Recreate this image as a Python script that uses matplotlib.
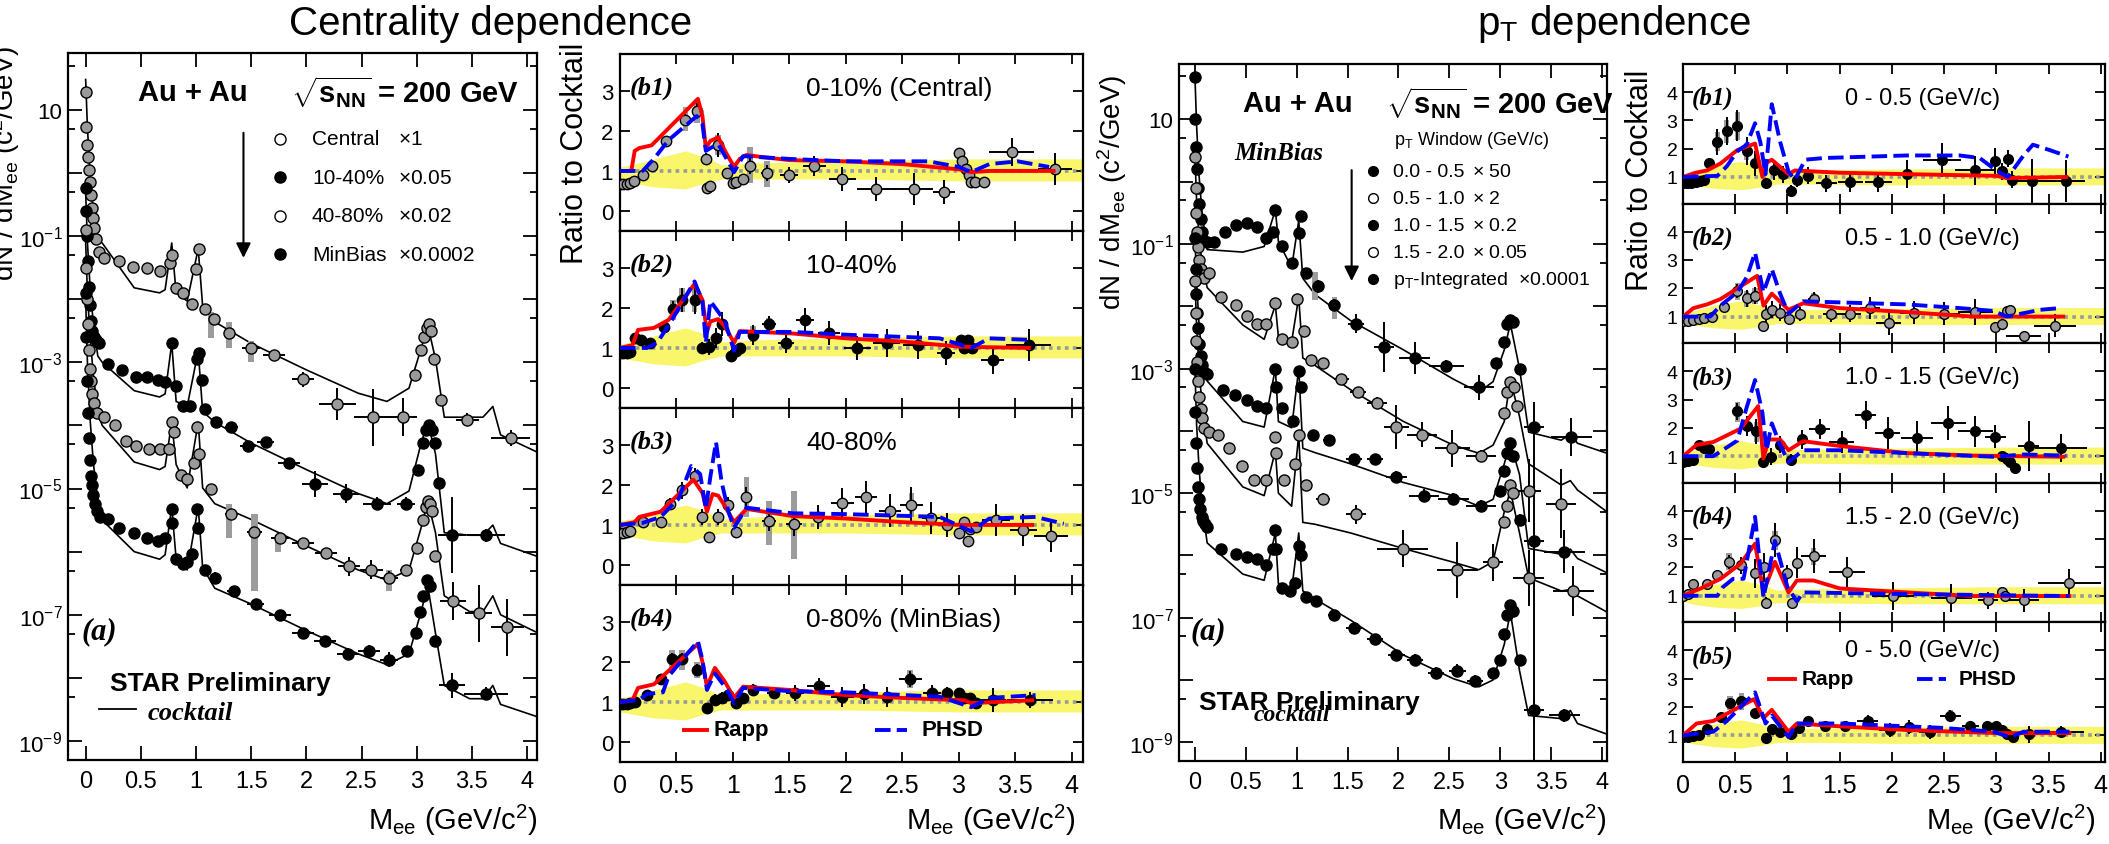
import numpy as np
import matplotlib.pyplot as plt
from matplotlib.ticker import NullFormatter

plt.rcParams['font.family'] = ['Liberation Sans', 'DejaVu Sans']
plt.rcParams['mathtext.fontset'] = 'custom'
plt.rcParams['mathtext.rm'] = 'Liberation Sans'
plt.rcParams['mathtext.it'] = 'Liberation Sans:italic'
plt.rcParams['mathtext.bf'] = 'Liberation Sans:bold'
plt.rcParams['axes.linewidth'] = 1.6

SERIF_BI = dict(family='Liberation Serif', style='italic', weight='bold')
GREY = '#9a9a9a'
YELLOW = '#f9f66b'

# =========================
# CENTRALITY (a): mass spectra, log10 of dN/dMee
# =========================
ck_mass = [0.0, 0.016, 0.04, 0.07, 0.11, 0.15, 0.44, 0.67, 0.72, 0.78, 0.82, 0.92, 1.02, 1.06, 1.17,
           1.5, 2.0, 2.47, 2.73, 2.93, 3.04, 3.1, 3.17, 3.25, 3.48, 3.6, 3.69, 3.76, 4.1]
ck_central = [1.48, 0.72, -0.03, -0.61, -1.07, -1.11, -1.82, -1.90, -1.85, -1.11, -1.90, -2.03, -1.20, -2.11, -2.36,
              -2.70, -3.12, -3.49, -3.62, -3.41, -2.78, -2.41, -2.95, -3.87, -3.87, -3.87, -3.70, -4.15, -4.43]
ck_1040 = [-0.3, -1.1, -1.8, -2.4, -2.9, -3.0, -3.45, -3.55, -3.5, -2.70, -3.62, -3.70, -2.82, -3.78, -3.95,
           -4.28, -4.70, -5.08, -5.24, -5.04, -4.28, -3.95, -4.45, -5.70, -5.74, -5.74, -5.58, -5.87, -6.08]
ck_4080 = [-1.1, -1.9, -2.6, -3.2, -3.8, -4.0, -4.58, -4.70, -4.65, -3.95, -4.62, -4.99, -3.95, -4.99, -5.24,
           -5.49, -5.91, -6.29, -6.45, -6.29, -5.62, -5.20, -5.70, -6.70, -6.95, -6.95, -6.70, -7.00, -7.29]
ck_minbias = [-2.0, -3.0, -3.9, -4.6, -5.2, -5.5, -6.0, -6.12, -6.05, -5.29, -6.12, -6.29, -5.29, -6.25, -6.58,
              -6.83, -7.25, -7.62, -7.79, -7.62, -6.95, -6.54, -7.29, -8.12, -8.33, -8.33, -8.12, -8.42, -8.62]

c1_x = [0.0, 0.006, 0.014, 0.022, 0.03, 0.04, 0.05, 0.06, 0.07, 0.08, 0.095, 0.12, 0.17, 0.3, 0.43, 0.56, 0.67,
        0.76, 0.785, 0.82, 0.88, 0.96, 1.0, 1.03, 1.08, 1.16, 1.3, 1.5, 1.71, 1.97, 2.28, 2.6, 2.88, 2.98, 3.04,
        3.07, 3.09, 3.11, 3.13, 3.16, 3.22, 3.46, 3.85]
c1_l = [1.29, 0.72, 0.45, 0.25, 0.05, -0.15, -0.35, -0.55, -0.72, -0.88, -1.05, -1.25, -1.35, -1.40, -1.49,
        -1.51, -1.55, -1.42, -1.30, -1.82, -1.90, -2.07, -1.53, -1.20, -2.16, -2.32, -2.53, -2.78, -2.88, -3.27,
        -3.66, -3.87, -3.87, -3.20, -2.80, -2.60, -2.45, -2.40, -2.50, -2.95, -3.60, -3.91, -4.20]
c1_dx = [0] * 26 + [0.05, 0.08, 0.1, 0.1, 0.17, 0.17, 0.12, 0, 0, 0, 0, 0, 0, 0, 0.03, 0.1, 0.18]
c1_dl = [0] * 17 + [0.08, 0.08, 0.08, 0.08, 0.08, 0.05, 0.05, 0.05, 0.05, 0.05, 0.06, 0.06, 0.12, 0.25, 0.45,
                    0.3, 0.05, 0.05, 0.05, 0.05, 0.05, 0.05, 0.05, 0.08, 0.1, 0.12]

c2_x = [0.0, 0.005, 0.012, 0.02, 0.03, 0.04, 0.05, 0.06, 0.075, 0.09, 0.12, 0.2, 0.33, 0.46, 0.56, 0.66, 0.72,
        0.78, 0.82, 0.88, 0.95, 1.01, 1.03, 1.05, 1.08, 1.18, 1.32, 1.47, 1.63, 1.84, 2.08, 2.36, 2.64, 2.9,
        3.01, 3.06, 3.08, 3.11, 3.14, 3.17, 3.2, 3.32, 3.63]
c2_l = [-0.24, -0.6, -1.0, -1.4, -1.8, -2.1, -2.35, -2.5, -2.6, -2.65, -2.70, -3.03, -3.12, -3.24, -3.24, -3.28,
        -3.32, -2.70, -3.37, -3.70, -3.70, -2.95, -2.85, -3.28, -3.74, -3.95, -4.03, -4.33, -4.27, -4.60, -4.93,
        -5.08, -5.24, -5.24, -4.70, -4.28, -4.08, -3.99, -4.08, -4.28, -4.91, -5.74, -5.74]
c2_dx = [0] * 26 + [0.06, 0.07, 0.08, 0.1, 0.12, 0.12, 0.13, 0.08, 0, 0, 0, 0, 0, 0, 0.02, 0.13, 0.17]
c2_dl = [0] * 18 + [0.08, 0.08, 0.08, 0.05, 0.05, 0.05, 0.05, 0.05, 0.05, 0.05, 0.05, 0.08, 0.2, 0.15, 0.1,
                    0.1, 0.05, 0.05, 0.05, 0.05, 0.05, 0.05, 0.05, 0.6, 0.1]

c3_x = [0.0, 0.006, 0.014, 0.022, 0.03, 0.04, 0.05, 0.06, 0.075, 0.1, 0.17, 0.27, 0.37, 0.46, 0.57, 0.67,
        0.755, 0.78, 0.8, 0.86, 0.92, 0.98, 1.01, 1.03, 1.14, 1.32, 1.53, 1.76, 1.97, 2.18, 2.39, 2.59, 2.75,
        2.9, 3.0, 3.06, 3.08, 3.1, 3.12, 3.14, 3.17, 3.33, 3.56, 3.82]
c3_l = [-0.9, -1.5, -2.0, -2.4, -2.8, -3.1, -3.3, -3.5, -3.65, -3.8, -3.87, -4.0, -4.25, -4.32, -4.38, -4.38,
        -4.38, -3.95, -4.1, -4.78, -4.85, -4.6, -4.03, -4.45, -5.0, -5.4, -5.69, -5.78, -5.87, -6.02, -6.23,
        -6.29, -6.41, -6.29, -5.94, -5.5, -5.3, -5.2, -5.25, -5.35, -6.07, -6.78, -6.98, -7.2]
c3_dx = [0] * 24 + [0.04, 0.06, 0.07, 0.08, 0.1, 0.1, 0.1, 0.1, 0.08, 0.05, 0, 0, 0, 0, 0, 0, 0,
                    0.12, 0.12, 0.15]
c3_dl = [0] * 16 + [0.05] * 12 + [0.05, 0.05, 0.15, 0.15, 0.1, 0.05, 0.05, 0.05, 0.05, 0.05, 0.05, 0.05,
                                  0.05, 0.3, 0.45, 0.45]

c4_x = [0.0, 0.005, 0.012, 0.02, 0.03, 0.04, 0.05, 0.06, 0.07, 0.085, 0.1, 0.13, 0.2, 0.3, 0.44, 0.56, 0.66,
        0.72, 0.78, 0.785, 0.82, 0.88, 0.92, 0.96, 1.01, 1.02, 1.08, 1.17, 1.34, 1.54, 1.76, 1.97, 2.17, 2.38,
        2.57, 2.75, 2.91, 2.99, 3.03, 3.06, 3.09, 3.12, 3.17, 3.32, 3.63]
c4_l = [-1.9, -2.6, -3.3, -3.8, -4.2, -4.55, -4.8, -4.95, -5.1, -5.25, -5.35, -5.45, -5.49, -5.62, -5.70,
        -5.79, -5.83, -5.79, -5.33, -5.55, -6.12, -6.20, -6.16, -6.04, -5.33, -5.62, -6.29, -6.41, -6.62,
        -6.83, -7.0, -7.29, -7.41, -7.62, -7.58, -7.71, -7.58, -7.29, -6.95, -6.70, -6.45, -6.54, -7.41,
        -8.12, -8.25]
c4_dx = [0] * 28 + [0.06, 0.08, 0.1, 0.1, 0.1, 0.1, 0.1, 0.08, 0.05, 0, 0, 0, 0, 0, 0, 0.12, 0.2]
c4_dl = [0] * 18 + [0.08] * 10 + [0.05, 0.05, 0.05, 0.08, 0.08, 0.1, 0.1, 0.12, 0.05, 0.05, 0.05, 0.05,
                                  0.05, 0.05, 0.05, 0.2, 0.1]

c1_sys_x, c1_sys_lo, c1_sys_hi = [1.14, 1.3, 1.5], [-2.61, -2.78, -2.99], [-2.2, -2.36, -2.66]
c3_sys_x, c3_sys_lo, c3_sys_hi = [1.3, 1.53, 1.74, 2.75], [-5.79, -6.62, -6.0, -6.62], [-5.24, -5.41, -5.74, -6.29]

cen_leg_names = ['Central', '10-40%', '40-80%', 'MinBias']
cen_leg_mult = [r'$\times$1', r'$\times$0.05', r'$\times$0.02', r'$\times$0.0002']
cen_leg_filled = [False, True, False, True]

# =========================
# CENTRALITY (b): ratio to cocktail
# =========================
rb_x = [0.0, 0.1, 0.3, 0.58, 0.75, 0.9, 1.2, 2.0, 3.0, 4.1]
rb_lo = [0.75, 0.7, 0.6, 0.55, 0.7, 0.8, 0.8, 0.8, 0.75, 0.75]
rb_hi = [1.1, 1.15, 1.3, 1.5, 1.35, 1.15, 1.2, 1.25, 1.3, 1.3]

b1_x = [0.0, 0.03, 0.06, 0.09, 0.12, 0.2, 0.28, 0.41, 0.58, 0.68, 0.76, 0.77, 0.8, 0.87, 0.95, 1.0, 1.03, 1.09,
        1.15, 1.3, 1.5, 1.72, 1.97, 2.27, 2.6, 2.87, 3.0, 3.03, 3.06, 3.09, 3.11, 3.14, 3.22, 3.47, 3.85]
b1_y = [0.68, 0.68, 0.68, 0.7, 0.75, 0.9, 1.13, 1.75, 2.28, 2.5, 1.3, 0.57, 0.63, 1.64, 0.95, 0.7, 0.72, 0.8,
        1.13, 0.95, 0.9, 1.13, 0.8, 0.55, 0.55, 0.48, 1.44, 1.24, 1.04, 0.9, 0.73, 0.73, 0.73, 1.47, 1.04]
b1_dx = [0] * 13 + [0.03, 0, 0, 0, 0, 0.03, 0.05, 0.08, 0.1, 0.12, 0.17, 0.17, 0.1, 0, 0, 0, 0, 0, 0, 0.03,
                    0.2, 0.15]
b1_dy = [0, 0, 0, 0, 0, 0.05, 0.08, 0.1, 0.15, 0.2, 0.15, 0.05, 0.05, 0.3, 0.1, 0.05, 0.05, 0.1, 0.2, 0.2,
         0.2, 0.25, 0.3, 0.3, 0.4, 0.3, 0.1, 0.1, 0.1, 0.1, 0.05, 0.05, 0.1, 0.35, 0.4]
b1_sys = ([0.58, 0.68, 0.87, 1.15, 1.3], [2.0, 2.2, 1.4, 0.7, 0.6], [2.6, 2.8, 1.9, 1.6, 1.25])
b1_rapp_x = [0.0, 0.1, 0.13, 0.17, 0.28, 0.69, 0.73, 0.76, 0.8, 0.87, 0.93, 1.01, 1.06, 1.12, 1.25, 1.5, 2.0,
             2.5, 3.0, 3.11, 3.27, 3.84]
b1_rapp_y = [1.0, 1.0, 1.5, 1.57, 1.64, 2.8, 2.37, 1.57, 1.75, 1.84, 1.5, 1.1, 1.3, 1.4, 1.35, 1.27, 1.24,
             1.17, 1.04, 0.97, 1.0, 1.0]
b1_phsd_x = [0.0, 0.2, 0.3, 0.43, 0.68, 0.73, 0.76, 0.8, 0.87, 1.01, 1.09, 1.5, 2.0, 2.73, 3.0, 3.11, 3.27,
             3.52, 3.8]
b1_phsd_y = [1.0, 1.0, 1.3, 1.77, 2.37, 2.17, 1.5, 1.57, 1.67, 0.97, 1.37, 1.3, 1.24, 1.24, 1.1, 0.97, 1.17,
             1.24, 1.1]

b2_x = [0.0, 0.03, 0.06, 0.09, 0.13, 0.19, 0.27, 0.39, 0.47, 0.55, 0.66, 0.73, 0.79, 0.85, 0.9, 0.98, 1.03,
        1.06, 1.18, 1.32, 1.47, 1.64, 1.85, 2.1, 2.36, 2.64, 2.89, 3.02, 3.05, 3.08, 3.12, 3.3, 3.62]
b2_y = [0.87, 0.87, 0.88, 0.9, 1.26, 1.2, 1.13, 1.53, 1.96, 2.2, 2.2, 1.0, 1.02, 1.26, 1.6, 0.8, 0.93, 1.0,
        1.33, 1.6, 1.13, 1.7, 1.37, 1.0, 1.13, 1.07, 0.87, 1.2, 1.0, 1.2, 1.0, 0.7, 1.07]
b2_dx = [0] * 18 + [0.05, 0.06, 0.07, 0.08, 0.1, 0.12, 0.12, 0.13, 0.08, 0, 0, 0, 0, 0.1, 0.2]
b2_dy = [0, 0, 0, 0, 0.1, 0.1, 0.1, 0.15, 0.2, 0.3, 0.35, 0.15, 0.2, 0.25, 0.3, 0.15, 0.15, 0.1, 0.25, 0.2,
         0.25, 0.3, 0.3, 0.3, 0.35, 0.35, 0.3, 0.1, 0.1, 0.1, 0.1, 0.35, 0.4]
b2_sys = ([0.47, 0.55, 0.66, 1.18, 1.32], [1.7, 1.9, 1.9, 1.15, 1.45], [2.2, 2.5, 2.5, 1.55, 1.75])
b2_rapp_x = [0.0, 0.11, 0.16, 0.3, 0.43, 0.66, 0.73, 0.77, 0.8, 0.87, 0.93, 1.01, 1.06, 1.53, 2.0, 2.5, 3.02, 3.62]
b2_rapp_y = [1.0, 1.07, 1.45, 1.5, 1.7, 2.6, 2.2, 1.4, 1.66, 1.72, 1.53, 1.13, 1.42, 1.36, 1.24, 1.16, 1.03, 1.0]
b2_phsd_x = [0.0, 0.24, 0.33, 0.46, 0.66, 0.73, 0.76, 0.8, 0.87, 0.93, 1.01, 1.06, 1.53, 2.0, 2.83, 3.11, 3.27, 3.65]
b2_phsd_y = [1.0, 1.0, 1.13, 1.7, 2.66, 2.17, 1.13, 2.17, 1.9, 1.66, 0.93, 1.4, 1.4, 1.33, 1.24, 1.0, 1.24, 1.2]

b3_x = [0.0, 0.03, 0.06, 0.09, 0.2, 0.36, 0.44, 0.55, 0.66, 0.73, 0.79, 0.87, 0.96, 1.03, 1.12, 1.32, 1.54,
        1.75, 1.97, 2.18, 2.39, 2.58, 2.75, 2.9, 3.0, 3.05, 3.08, 3.1, 3.15, 3.33, 3.57, 3.82]
b3_y = [0.8, 0.8, 0.82, 0.85, 1.07, 1.07, 1.53, 1.86, 2.22, 1.2, 0.7, 1.2, 1.5, 0.83, 1.69, 1.1, 1.03, 1.2,
        1.56, 1.69, 1.36, 1.5, 1.17, 1.0, 0.8, 1.07, 0.6, 0.9, 0.95, 1.13, 0.87, 0.73]
b3_dx = [0] * 15 + [0.06, 0.07, 0.08, 0.1, 0.1, 0.1, 0.1, 0.08, 0.05, 0, 0, 0, 0, 0, 0.12, 0.12, 0.15]
b3_dy = [0, 0, 0, 0, 0.05, 0.1, 0.15, 0.2, 0.2, 0.2, 0.1, 0.2, 0.2, 0.1, 0.25, 0.25, 0.3, 0.3, 0.35, 0.4,
         0.4, 0.45, 0.4, 0.3, 0.1, 0.1, 0.1, 0.1, 0.1, 0.4, 0.4, 0.4]
b3_sys = ([1.12, 1.32, 1.54, 2.58], [1.2, 0.5, 0.15, 1.2], [2.2, 1.6, 1.85, 1.8])
b3_rapp_x = [0.0, 0.13, 0.17, 0.36, 0.65, 0.73, 0.77, 0.82, 0.87, 0.93, 1.01, 1.12, 1.53, 2.0, 2.5, 3.02, 3.65]
b3_rapp_y = [1.0, 1.07, 1.2, 1.33, 2.13, 1.8, 1.33, 1.77, 1.73, 1.47, 1.07, 1.4, 1.22, 1.16, 1.07, 1.0, 1.0]
b3_phsd_x = [0.0, 0.2, 0.36, 0.52, 0.63, 0.71, 0.76, 0.8, 0.85, 0.9, 0.96, 1.01, 1.12, 1.53, 2.0, 2.83, 3.11,
             3.27, 3.68, 3.93]
b3_phsd_y = [1.0, 1.05, 1.2, 1.66, 2.47, 2.27, 1.4, 2.2, 3.07, 2.07, 1.33, 0.93, 1.43, 1.29, 1.27, 1.2, 0.84,
             1.16, 1.2, 1.03]

b4_x = [0.0, 0.03, 0.06, 0.09, 0.13, 0.24, 0.36, 0.46, 0.55, 0.68, 0.77, 0.84, 0.9, 0.96, 1.03, 1.09, 1.18,
        1.36, 1.55, 1.76, 1.97, 2.16, 2.36, 2.57, 2.76, 2.9, 3.0, 3.05, 3.1, 3.15, 3.3, 3.63]
b4_y = [0.95, 0.95, 0.95, 0.97, 1.0, 1.17, 1.58, 2.07, 2.07, 1.8, 0.84, 1.04, 1.1, 1.17, 0.97, 1.1, 1.3, 1.23,
        1.23, 1.4, 1.13, 1.21, 1.13, 1.58, 1.23, 1.23, 1.23, 1.1, 1.1, 0.97, 1.04, 1.04]
b4_dx = [0] * 17 + [0.06, 0.08, 0.1, 0.1, 0.1, 0.1, 0.1, 0.08, 0.05, 0, 0, 0, 0, 0.12, 0.2]
b4_dy = [0, 0, 0, 0, 0, 0.05, 0.1, 0.15, 0.15, 0.15, 0.1, 0.15, 0.15, 0.15, 0.1, 0.1, 0.15, 0.15, 0.2, 0.2,
         0.25, 0.25, 0.25, 0.2, 0.2, 0.15, 0.1, 0.1, 0.1, 0.1, 0.3, 0.2]
b4_sys = ([0.46, 0.55, 0.68, 2.57], [1.8, 1.8, 1.6, 1.35], [2.3, 2.3, 2.0, 1.8])
b4_rapp_x = [0.0, 0.11, 0.16, 0.3, 0.69, 0.73, 0.77, 0.84, 0.93, 1.01, 1.09, 1.5, 2.0, 2.5, 3.05, 3.11, 3.65]
b4_rapp_y = [1.0, 1.04, 1.35, 1.44, 2.45, 2.0, 1.38, 1.85, 1.5, 1.1, 1.38, 1.3, 1.17, 1.1, 1.04, 0.97, 1.04]
b4_phsd_x = [0.0, 0.17, 0.24, 0.38, 0.43, 0.69, 0.73, 0.77, 0.84, 0.95, 1.01, 1.09, 1.5, 2.0, 2.83, 3.11, 3.27, 3.68]
b4_phsd_y = [1.0, 1.05, 1.2, 1.24, 1.64, 2.52, 2.05, 1.3, 1.71, 1.3, 0.97, 1.35, 1.27, 1.24, 1.13, 0.87, 1.1, 1.17]

cen_b_tags = ['(b1)', '(b2)', '(b3)', '(b4)']
cen_b_labels = ['0-10% (Central)', '10-40%', '40-80%', '0-80% (MinBias)']
cen_b_filled = [False, True, False, True]

# =========================
# pT (a): mass spectra in pT windows, log10 of dN/dMee
# =========================
pk_mass = [0.0, 0.016, 0.04, 0.07, 0.12, 0.47, 0.68, 0.79, 0.82, 0.95, 1.02, 1.06, 1.18, 1.53, 2.05, 2.54,
           2.79, 2.93, 3.04, 3.1, 3.19, 3.28, 3.6, 3.69, 3.76, 4.05]
pk_1 = [1.68, 0.9, 0.1, -0.5, -1.09, -1.13, -1.04, -0.45, -0.96, -1.38, -0.62, -1.55, -1.81, -2.23, -2.70,
        -3.17, -3.38, -3.21, -2.70, -2.28, -3.0, -4.02, -4.15, -4.05, -4.2, -4.36]
pk_2 = [0.4, -0.3, -0.9, -1.3, -1.7, -2.3, -2.53, -1.98, -2.49, -2.57, -1.85, -2.83, -2.95, -3.34, -3.85,
        -4.23, -4.36, -4.23, -3.85, -3.17, -3.77, -4.53, -4.87, -4.8, -4.95, -5.30]
pk_3 = [-0.9, -1.6, -2.3, -2.8, -3.2, -3.85, -3.94, -3.0, -3.85, -3.95, -3.0, -4.28, -4.35, -4.53, -4.83,
        -5.04, -5.21, -5.1, -4.53, -4.19, -4.7, -5.89, -5.98, -5.9, -6.05, -6.28]
pk_4 = [-1.6, -2.3, -3.0, -3.6, -4.2, -4.9, -5.04, -4.32, -5.0, -5.21, -4.06, -5.47, -5.5, -5.64, -5.89,
        -6.11, -6.23, -6.1, -5.3, -4.96, -5.64, -6.36, -6.57, -6.55, -6.65, -6.91]
pk_5 = [-3.0, -3.9, -4.6, -5.2, -5.8, -6.3, -6.4, -5.64, -6.45, -6.55, -5.64, -6.57, -6.7, -7.04, -7.6,
        -7.98, -8.11, -8.0, -7.43, -6.91, -7.85, -8.57, -8.62, -8.49, -8.7, -8.87]

p1_x = [0.0, 0.005, 0.012, 0.02, 0.03, 0.04, 0.055, 0.07, 0.09, 0.12, 0.19, 0.3, 0.4, 0.51, 0.61, 0.7, 0.77,
        0.79, 0.86, 0.95, 1.02, 1.04, 1.09, 1.21, 1.37, 1.58, 1.86, 2.16, 2.47, 2.79, 2.96, 3.04, 3.07, 3.1,
        3.13, 3.19, 3.33, 3.7]
p1_l = [1.68, 1.0, 0.55, 0.2, -0.1, -0.35, -0.6, -0.8, -0.95, -0.96, -0.96, -0.8, -0.70, -0.66, -0.72, -0.91,
        -0.8, -0.45, -1.04, -1.30, -0.83, -0.55, -1.47, -1.68, -1.98, -2.28, -2.66, -2.83, -2.96, -3.3, -2.91,
        -2.57, -2.28, -2.22, -2.25, -3.0, -3.94, -4.1]
p1_dx = [0] * 23 + [0.04, 0.06, 0.08, 0.1, 0.15, 0.17, 0.15, 0, 0, 0, 0, 0, 0, 0.1, 0.2]
p1_dl = [0] * 10 + [0.05, 0.05, 0.05, 0.05, 0.05, 0.05, 0.05, 0.05, 0.08, 0.08, 0.08, 0.05, 0.08, 0.1, 0.1,
                    0.15, 0.4, 0.25, 0.1, 0.2, 0.08, 0.05, 0.05, 0.05, 0.05, 0.08, 0.4, 0.3]
p1_dlo = [0] * 10 + [0.05, 0.05, 0.05, 0.05, 0.05, 0.05, 0.05, 0.05, 0.08, 0.08, 0.08, 0.05, 0.08, 0.1, 0.1,
                     0.15, 0.4, 0.25, 0.1, 0.2, 0.08, 0.05, 0.05, 0.05, 0.05, 0.08, 6.0, 0.3]

p2_x = [0.0, 0.006, 0.014, 0.022, 0.03, 0.04, 0.055, 0.07, 0.09, 0.14, 0.26, 0.4, 0.51, 0.61, 0.7, 0.79, 0.86,
        0.95, 1.0, 1.07, 1.14, 1.26, 1.44, 1.6, 1.79, 1.98, 2.23, 2.53, 2.81, 3.04, 3.07, 3.1, 3.14, 3.17, 3.28, 3.6]
p2_l = [0.4, -0.1, -0.5, -0.8, -1.05, -1.25, -1.4, -1.5, -1.55, -1.47, -1.85, -1.98, -2.15, -2.28, -2.28,
        -1.94, -2.53, -2.57, -1.89, -2.4, -2.87, -2.91, -3.17, -3.38, -3.55, -3.94, -4.06, -4.28, -4.4, -3.72,
        -3.38, -3.21, -3.3, -3.6, -4.96, -5.17]
p2_dx = [0] * 20 + [0.03, 0.05, 0.07, 0.08, 0.1, 0.12, 0.15, 0.17, 0.15, 0, 0, 0, 0, 0, 0.12, 0.15]
p2_dl = [0] * 10 + [0.05] * 10 + [0.05, 0.08, 0.08, 0.08, 0.1, 0.35, 0.2, 0.3, 0.1, 0.05, 0.05, 0.05, 0.05,
                                  0.05, 0.5, 0.55]

p3_x = [0.0, 0.006, 0.014, 0.022, 0.03, 0.04, 0.055, 0.07, 0.09, 0.12, 0.28, 0.39, 0.51, 0.61, 0.7, 0.79, 0.8,
        0.86, 0.96, 1.02, 1.04, 1.16, 1.32, 1.56, 1.77, 1.98, 2.25, 2.54, 2.81, 3.0, 3.04, 3.07, 3.1, 3.13, 3.19,
        3.33, 3.63]
p3_l = [-0.9, -1.4, -1.8, -2.1, -2.35, -2.6, -2.8, -2.95, -3.05, -3.09, -3.34, -3.43, -3.51, -3.6, -3.64, -3.0,
        -3.3, -3.64, -3.85, -3.04, -3.3, -4.06, -4.15, -4.45, -4.45, -4.74, -5.04, -5.09, -5.21, -4.96, -4.65,
        -4.36, -4.19, -4.4, -5.43, -5.77, -5.94]
p3_dx = [0] * 21 + [0.04, 0.06, 0.08, 0.08, 0.1, 0.15, 0.15, 0.15, 0, 0, 0, 0, 0, 0, 0.1, 0.2]
p3_dl = [0] * 10 + [0.05] * 11 + [0.05, 0.05, 0.08, 0.08, 0.1, 0.1, 0.1, 0.1, 0.05, 0.05, 0.05, 0.05, 0.05,
                                  0.1, 0.3, 0.35]

p4_x = [0.0, 0.006, 0.014, 0.022, 0.03, 0.04, 0.055, 0.07, 0.09, 0.14, 0.23, 0.33, 0.46, 0.58, 0.7, 0.79, 0.8,
        0.88, 0.98, 1.02, 1.09, 1.26, 1.58, 2.04, 2.58, 2.93, 3.04, 3.07, 3.1, 3.13, 3.28, 3.72]
p4_l = [-1.6, -2.1, -2.55, -2.9, -3.2, -3.45, -3.65, -3.8, -3.95, -4.02, -4.06, -4.28, -4.57, -4.79, -4.79,
        -4.1, -4.35, -4.79, -4.53, -4.06, -4.87, -5.09, -5.34, -5.89, -6.23, -6.11, -5.47, -5.2, -4.87, -5.0,
        -6.36, -6.57]
p4_dx = [0] * 21 + [0.07, 0.1, 0.25, 0.2, 0.1, 0, 0, 0, 0, 0.15, 0.2]
p4_dl = [0] * 10 + [0.05] * 11 + [0.1, 0.15, 0.3, 0.45, 0.3, 0.08, 0.05, 0.05, 0.05, 0.45, 0.4]

p5_x = [0.0, 0.005, 0.012, 0.02, 0.03, 0.04, 0.05, 0.065, 0.08, 0.1, 0.12, 0.26, 0.4, 0.51, 0.61, 0.7, 0.77,
        0.79, 0.8, 0.86, 0.93, 0.98, 1.02, 1.04, 1.09, 1.19, 1.37, 1.56, 1.77, 1.98, 2.16, 2.37, 2.58, 2.75,
        2.93, 3.0, 3.04, 3.07, 3.1, 3.13, 3.19, 3.33, 3.63]
p5_l = [-3.0, -3.7, -4.2, -4.6, -4.9, -5.1, -5.25, -5.38, -5.45, -5.5, -5.55, -5.9, -5.98, -6.02, -6.06, -6.15,
        -5.9, -5.6, -5.9, -6.53, -6.57, -6.45, -5.85, -6.0, -6.66, -6.74, -6.96, -7.17, -7.34, -7.6, -7.68,
        -7.89, -7.85, -8.02, -7.89, -7.68, -7.26, -6.96, -6.79, -6.9, -7.68, -8.49, -8.57]
p5_dx = [0] * 26 + [0.06, 0.08, 0.08, 0.08, 0.08, 0.08, 0.08, 0.08, 0.05, 0, 0, 0, 0, 0, 0, 0.1, 0.15]
p5_dl = [0] * 26 + [0.05, 0.05, 0.05, 0.08, 0.1, 0.1, 0.1, 0.1, 0.08, 0.05, 0.05, 0.05, 0.05, 0.05, 0.05,
                    0.2, 0.1]

p1_sys_x, p1_sys_lo, p1_sys_hi = [1.18, 1.37], [-1.9, -2.2], [-1.45, -1.85]

pt_leg_ranges = ['0.0 - 0.5', '0.5 - 1.0', '1.0 - 1.5', '1.5 - 2.0']
pt_leg_mult = [r'$\times$ 50', r'$\times$ 2', r'$\times$ 0.2', r'$\times$ 0.05']
pt_leg_filled = [True, False, True, False, True]

# =========================
# pT (b): ratio to cocktail
# =========================
pb_x = [0.0, 0.1, 0.3, 0.55, 0.75, 0.9, 1.2, 2.0, 3.0, 4.1]
pb_lo = [0.8, 0.7, 0.6, 0.55, 0.65, 0.75, 0.75, 0.72, 0.72, 0.72]
pb_hi = [1.1, 1.2, 1.4, 1.55, 1.4, 1.2, 1.25, 1.28, 1.32, 1.32]

q1_x = [0.0, 0.04, 0.08, 0.12, 0.16, 0.2, 0.25, 0.33, 0.42, 0.52, 0.61, 0.69, 0.79, 0.87, 0.96, 1.03, 1.09, 1.2,
        1.37, 1.6, 1.87, 2.14, 2.48, 2.8, 2.99, 3.05, 3.11, 3.15, 3.34, 3.67]
q1_y = [0.8, 0.8, 0.8, 0.82, 0.85, 0.9, 1.48, 2.24, 2.62, 2.81, 1.91, 1.48, 0.77, 1.23, 1.1, 0.52, 0.9, 1.04,
        0.77, 0.81, 0.81, 1.1, 1.61, 1.23, 1.57, 1.2, 1.65, 0.9, 0.85, 0.85]
q1_dx = [0] * 17 + [0.05, 0.1, 0.12, 0.13, 0.15, 0.18, 0.2, 0, 0, 0, 0, 0.2, 0.18]
q1_dy = [0, 0, 0, 0, 0, 0.1, 0.2, 0.45, 0.5, 0.55, 0.5, 0.45, 0.2, 0.35, 0.3, 0.2, 0.25, 0.3, 0.3, 0.35,
         0.35, 0.5, 0.6, 0.5, 0.45, 0.3, 0.3, 0.3, 0.8, 0.75]
q1_sys = ([0.33, 0.42, 0.52, 0.61], [1.9, 2.2, 2.3, 1.6], [2.6, 3.0, 3.3, 2.2])
q1_rapp_x = [0.0, 0.12, 0.23, 0.36, 0.52, 0.69, 0.76, 0.79, 0.85, 0.95, 1.01, 1.07, 1.5, 2.14, 3.0, 3.1, 3.67]
q1_rapp_y = [1.0, 1.15, 1.23, 1.48, 1.95, 2.18, 1.0, 1.48, 1.61, 1.29, 1.1, 1.23, 1.15, 1.1, 1.04, 0.96, 1.0]
q1_phsd_x = [0.0, 0.33, 0.42, 0.52, 0.61, 0.69, 0.74, 0.79, 0.85, 0.93, 1.01, 1.07, 1.17, 1.35, 2.14, 2.65,
             2.84, 3.0, 3.11, 3.26, 3.35, 3.51, 3.69]
q1_phsd_y = [1.0, 1.04, 1.38, 1.91, 2.14, 2.9, 2.24, 1.1, 3.57, 2.24, 1.19, 0.9, 1.61, 1.67, 1.76, 1.76, 1.67,
             1.23, 1.0, 1.76, 2.14, 1.95, 1.72]

q2_x = [0.0, 0.05, 0.1, 0.15, 0.2, 0.28, 0.39, 0.52, 0.61, 0.69, 0.77, 0.79, 0.85, 0.93, 1.01, 1.12, 1.25, 1.42,
        1.6, 1.79, 1.97, 2.21, 2.5, 2.8, 2.99, 3.05, 3.1, 3.13, 3.26, 3.56]
q2_y = [0.86, 0.86, 0.87, 0.9, 0.95, 1.0, 1.35, 1.9, 1.64, 1.73, 0.67, 1.1, 1.24, 1.14, 0.91, 1.1, 1.62, 1.1,
        1.1, 1.3, 0.76, 1.14, 1.1, 1.16, 0.63, 0.75, 1.2, 1.25, 0.3, 0.68]
q2_dx = [0] * 16 + [0.05, 0.08, 0.1, 0.1, 0.12, 0.13, 0.15, 0.17, 0, 0, 0, 0, 0.17, 0.2]
q2_dy = [0, 0, 0, 0, 0, 0.05, 0.15, 0.25, 0.3, 0.3, 0.1, 0.3, 0.3, 0.3, 0.15, 0.25, 0.25, 0.3, 0.3, 0.4,
         0.4, 0.4, 0.4, 0.45, 0.1, 0.1, 0.1, 0.1, 0.1, 0.4]
q2_sys = ([0.52, 0.61, 0.69, 1.25], [1.6, 1.35, 1.45, 1.4], [2.2, 1.9, 2.0, 1.85])
q2_rapp_x = [0.0, 0.1, 0.23, 0.36, 0.71, 0.77, 0.85, 1.01, 1.15, 1.5, 2.14, 2.78, 3.64]
q2_rapp_y = [1.0, 1.3, 1.43, 1.62, 2.44, 1.39, 1.81, 1.24, 1.47, 1.3, 1.16, 1.0, 1.0]
q2_phsd_x = [0.0, 0.26, 0.36, 0.52, 0.61, 0.69, 0.77, 0.85, 0.93, 1.01, 1.15, 2.14, 2.65, 2.97, 3.1, 3.42, 3.61]
q2_phsd_y = [1.0, 1.0, 1.39, 1.86, 2.39, 3.26, 1.86, 2.68, 1.81, 1.1, 1.54, 1.43, 1.3, 1.2, 1.0, 1.24, 1.3]

q3_x = [0.0, 0.05, 0.1, 0.15, 0.2, 0.25, 0.52, 0.61, 0.7, 0.77, 0.84, 0.93, 1.03, 1.14, 1.31, 1.52, 1.75, 1.96,
        2.24, 2.54, 2.8, 2.99, 3.05, 3.1, 3.13, 3.18, 3.31, 3.62]
q3_y = [0.8, 0.82, 0.85, 1.4, 1.3, 1.25, 2.58, 2.07, 1.88, 0.79, 0.98, 1.4, 0.87, 1.59, 1.97, 1.5, 2.45, 1.82,
        1.65, 2.16, 1.88, 1.69, 1.0, 0.9, 0.8, 0.6, 1.36, 1.3]
q3_dx = [0] * 13 + [0.05, 0.1, 0.12, 0.1, 0.12, 0.15, 0.17, 0.17, 0.1, 0, 0, 0, 0, 0.1, 0.25]
q3_dy = [0, 0, 0, 0.1, 0.1, 0.1, 0.3, 0.35, 0.45, 0.2, 0.3, 0.3, 0.2, 0.35, 0.35, 0.4, 0.5, 0.55, 0.6, 0.6,
         0.55, 0.4, 0.2, 0.2, 0.2, 0.15, 0.9, 0.5]
q3_sys = ([0.52, 0.7], [2.2, 1.5], [2.9, 2.2])
q3_rapp_x = [0.0, 0.13, 0.29, 0.55, 0.72, 0.77, 0.82, 0.93, 1.01, 1.15, 1.5, 2.14, 2.78, 3.64]
q3_rapp_y = [1.0, 1.4, 1.5, 1.97, 2.77, 0.92, 1.59, 1.59, 1.21, 1.53, 1.36, 1.11, 1.02, 0.98]
q3_phsd_x = [0.0, 0.29, 0.52, 0.61, 0.69, 0.76, 0.8, 0.85, 0.93, 1.01, 1.15, 1.5, 2.14, 2.97, 3.26, 3.67]
q3_phsd_y = [1.0, 1.0, 1.55, 2.73, 3.69, 2.54, 1.21, 2.16, 1.4, 0.79, 1.21, 1.21, 1.11, 0.98, 1.06, 1.02]

q4_x = [0.0, 0.05, 0.1, 0.23, 0.33, 0.44, 0.56, 0.69, 0.78, 0.79, 0.88, 1.0, 1.04, 1.09, 1.25, 1.57, 2.01, 2.57,
        2.92, 3.05, 3.08, 3.26, 3.7]
q4_y = [1.0, 1.05, 1.4, 1.4, 1.75, 2.2, 2.07, 1.79, 2.0, 0.74, 2.97, 1.79, 0.74, 2.17, 2.4, 1.83, 0.99, 0.93,
        0.84, 1.12, 1.0, 0.84, 1.45]
q4_dx = [0] * 14 + [0.12, 0.17, 0.2, 0.2, 0.1, 0, 0, 0.15, 0.3]
q4_dy = [0, 0, 0.1, 0.1, 0.15, 0.25, 0.3, 0.5, 0.5, 0.2, 0.6, 0.3, 0.15, 0.55, 0.6, 0.55, 0.5, 0.5, 0.3,
         0.2, 0.2, 0.4, 0.5]
q4_sys = ([0.44, 0.88, 1.25], [1.9, 2.6, 2.1], [2.5, 3.3, 2.7])
q4_rapp_x = [0.0, 0.17, 0.36, 0.55, 0.69, 0.77, 0.88, 1.01, 1.09, 1.25, 1.5, 2.14, 2.78, 3.7]
q4_rapp_y = [1.0, 1.26, 1.6, 2.13, 2.84, 1.12, 2.2, 1.12, 1.54, 1.54, 1.26, 1.12, 0.99, 0.99]
q4_phsd_x = [0.0, 0.33, 0.38, 0.48, 0.58, 0.69, 0.77, 0.88, 1.0, 1.09, 1.15, 2.14, 3.7]
q4_phsd_y = [1.0, 1.0, 1.3, 1.6, 1.6, 3.79, 0.93, 2.94, 1.31, 0.8, 1.12, 1.06, 0.99]

q5_x = [0.0, 0.05, 0.1, 0.15, 0.23, 0.36, 0.45, 0.56, 0.69, 0.79, 0.85, 0.93, 1.03, 1.11, 1.2, 1.36, 1.55, 1.77,
        1.98, 2.16, 2.36, 2.56, 2.75, 2.91, 3.0, 3.05, 3.1, 3.16, 3.31, 3.62]
q5_y = [0.95, 0.95, 0.97, 1.0, 1.23, 1.65, 2.14, 2.22, 1.8, 0.89, 1.23, 1.13, 1.04, 1.27, 1.51, 1.32, 1.32,
        1.51, 1.19, 1.29, 1.13, 1.7, 1.32, 1.32, 1.32, 1.19, 1.04, 0.95, 1.04, 1.13]
q5_dx = [0] * 15 + [0.06, 0.08, 0.1, 0.1, 0.1, 0.1, 0.1, 0.08, 0.05, 0, 0, 0, 0, 0.12, 0.22]
q5_dy = [0, 0, 0, 0, 0.05, 0.1, 0.15, 0.15, 0.15, 0.1, 0.15, 0.15, 0.1, 0.15, 0.15, 0.15, 0.2, 0.2, 0.25,
         0.25, 0.25, 0.2, 0.2, 0.15, 0.1, 0.1, 0.1, 0.1, 0.3, 0.2]
q5_sys = ([0.45, 0.56, 2.56], [1.9, 1.9, 1.5], [2.4, 2.5, 1.9])
q5_rapp_x = [0.0, 0.13, 0.29, 0.68, 0.77, 0.85, 1.01, 1.09, 1.5, 2.14, 3.0, 3.7]
q5_rapp_y = [1.0, 1.42, 1.51, 2.28, 1.61, 1.9, 1.13, 1.42, 1.32, 1.19, 1.08, 1.08]
q5_phsd_x = [0.0, 0.29, 0.42, 0.69, 0.79, 0.85, 1.01, 1.09, 1.5, 2.46, 2.97, 3.13, 3.26, 3.7]
q5_phsd_y = [1.0, 1.13, 1.51, 2.52, 1.42, 1.7, 0.94, 1.42, 1.42, 1.27, 1.13, 0.94, 1.13, 1.13]

pt_b_tags = ['(b1)', '(b2)', '(b3)', '(b4)', '(b5)']
pt_b_labels = ['0 - 0.5 (GeV/c)', '0.5 - 1.0 (GeV/c)', '1.0 - 1.5 (GeV/c)', '1.5 - 2.0 (GeV/c)',
               '0 - 5.0 (GeV/c)']
pt_b_filled = [True, False, True, False, True]

x_ticks = [0, 0.5, 1, 1.5, 2, 2.5, 3, 3.5, 4]
x_tick_labels = ['0', '0.5', '1', '1.5', '2', '2.5', '3', '3.5', '4']

# =========================
# helpers
# =========================
W, H = 2109, 845


def box(left, top, right, bottom):
    return [left / W, 1 - bottom / H, (right - left) / W, (bottom - top) / H]


def spectrum(ax, x, logy, dx, dl, filled, dlo=None):
    logy = np.asarray(logy, float)
    dl = np.asarray(dl, float)
    dlo = dl if dlo is None else np.asarray(dlo, float)
    y = 10 ** logy
    yerr = [y - 10 ** (logy - dlo), 10 ** (logy + dl) - y]
    ax.errorbar(x, y, xerr=dx, yerr=yerr, fmt='none', ecolor='k', elinewidth=1.4, zorder=3)
    ax.plot(x, y, 'o', ms=8, mfc='k' if filled else GREY, mec='k', mew=1.0, zorder=4)


def log_frame(ax, ylo, yhi, xlo, xhi):
    ax.set_yscale('log')
    ax.set_xlim(xlo, xhi)
    ax.set_ylim(10 ** ylo, 10 ** yhi)
    decades = list(range(-9, 2))
    labels = [('10' if k == 1 else r'$10^{%d}$' % k) if k % 2 else '' for k in decades]
    ax.set_yticks([10.0 ** k for k in decades], labels)
    ax.set_yticks([5 * 10.0 ** k for k in range(-10, 2)], minor=True)
    ax.yaxis.set_minor_formatter(NullFormatter())
    ax.set_xticks(x_ticks, x_tick_labels)
    ax.tick_params(which='both', direction='in', top=True, right=True, width=1.3, labelsize=17, pad=7)
    ax.tick_params(axis='y', labelsize=16, pad=4)
    ax.tick_params(which='major', length=10)
    ax.tick_params(which='minor', length=5)


def ratio_panel(ax, band, x, y, dx, dy, filled, sys, rapp, phsd, ylim, yt, ms):
    ax.fill_between(band[0], band[1], band[2], color=YELLOW, lw=0, zorder=1)
    ax.axhline(1, color='#999999', ls=(0, (1, 1.2)), lw=2.6, zorder=2)
    sx, slo, shi = sys
    ax.bar(sx, np.array(shi) - np.array(slo), bottom=slo, width=0.05, color='#9c9c9c', lw=0, zorder=2.5)
    ax.errorbar(x, y, xerr=dx, yerr=dy, fmt='none', ecolor='k', elinewidth=1.4, zorder=3)
    ax.plot(x, y, 'o', ms=ms, mfc='k' if filled else GREY, mec='k', mew=1.0, zorder=4)
    ax.plot(rapp[0], rapp[1], color='red', lw=2.8, zorder=6)
    ax.plot(phsd[0], phsd[1], color='blue', lw=2.8, dashes=(4, 1.6), zorder=6)
    ax.set_ylim(*ylim)
    ax.set_yticks(yt)
    ax.set_xticks(x_ticks, x_tick_labels)
    ax.tick_params(direction='in', top=True, right=True, length=7, width=1.3, pad=5)


fig = plt.figure(figsize=(21.09, 8.45), dpi=100)

fig.text(491 / W, 1 - 24 / H, 'Centrality dependence', ha='center', va='center', fontsize=29)
fig.text(1614 / W, 1 - 24 / H, r'p$_\mathrm{T}$ dependence', ha='center', va='center', fontsize=29)

# =========================
# Centrality (a)
# =========================
ax = fig.add_axes(box(68, 54, 537, 761))
log_frame(ax, -9.04, 1.9, -0.16, 4.09)
for ck in [ck_central, ck_1040, ck_4080, ck_minbias]:
    ax.plot(ck_mass, 10 ** np.array(ck), color='k', lw=1.2, zorder=2)
for sx, slo, shi in [(c1_sys_x, c1_sys_lo, c1_sys_hi), (c3_sys_x, c3_sys_lo, c3_sys_hi)]:
    ax.bar(sx, 10 ** np.array(shi) - 10 ** np.array(slo), bottom=10 ** np.array(slo), width=0.055,
           color='#9c9c9c', lw=0, zorder=2.5)
spectrum(ax, c1_x, c1_l, c1_dx, c1_dl, False)
spectrum(ax, c2_x, c2_l, c2_dx, c2_dl, True)
spectrum(ax, c3_x, c3_l, c3_dx, c3_dl, False)
spectrum(ax, c4_x, c4_l, c4_dx, c4_dl, True)

ax.text(0.47, 10 ** 1.29, 'Au + Au', fontsize=21, weight='bold', va='center')
ax.text(1.86, 10 ** 1.29, r'$\sqrt{\mathbf{s}_{\mathbf{NN}}}$ = 200 GeV', fontsize=21, weight='bold', va='center')
for i, (nm, mu, fl) in enumerate(zip(cen_leg_names, cen_leg_mult, cen_leg_filled)):
    yy = 10 ** (0.54 - 0.61 * i)
    ax.plot(1.76, yy, 'o', ms=8, mfc='k' if fl else 'white', mec='k', mew=1.0)
    ax.text(2.05, yy, nm, fontsize=15, va='center')
    ax.text(2.83, yy, mu, fontsize=15, va='center')
ax.annotate('', xy=(1.43, 10 ** -1.39), xytext=(1.43, 10 ** 0.68),
            arrowprops=dict(arrowstyle='-|>', color='k', lw=1.5, mutation_scale=22))
ax.text(-0.04, 10 ** -7.25, '(a)', fontsize=22, va='center', **SERIF_BI)
ax.text(0.22, 10 ** -8.08, 'STAR Preliminary', fontsize=19, weight='bold', va='center')
ax.plot([0.12, 0.46], [10 ** -8.5, 10 ** -8.5], color='k', lw=1.3)
ax.text(0.56, 10 ** -8.55, 'cocktail', fontsize=19, va='center', **SERIF_BI)

fig.text(5 / W, 1 - 46 / H, r'dN / dM$_{\mathrm{ee}}$ (c$^{2}$/GeV)', rotation=90, ha='center', va='top',
         fontsize=20)
fig.text(537 / W, 1 - 820 / H, r'M$_{\mathrm{ee}}$ (GeV/c$^{2}$)', ha='right', va='center', fontsize=21)

# =========================
# Centrality (b)
# =========================
cen_b = [(b1_x, b1_y, b1_dx, b1_dy, b1_sys, (b1_rapp_x, b1_rapp_y), (b1_phsd_x, b1_phsd_y)),
         (b2_x, b2_y, b2_dx, b2_dy, b2_sys, (b2_rapp_x, b2_rapp_y), (b2_phsd_x, b2_phsd_y)),
         (b3_x, b3_y, b3_dx, b3_dy, b3_sys, (b3_rapp_x, b3_rapp_y), (b3_phsd_x, b3_phsd_y)),
         (b4_x, b4_y, b4_dx, b4_dy, b4_sys, (b4_rapp_x, b4_rapp_y), (b4_phsd_x, b4_phsd_y))]
for i, (x, y, dx, dy, sys, rapp, phsd) in enumerate(cen_b):
    top = 55 + 177 * i
    ax = fig.add_axes(box(620, top, 1083, top + 177))
    ratio_panel(ax, (rb_x, rb_lo, rb_hi), x, y, dx, dy, cen_b_filled[i], sys, rapp, phsd,
                (-0.5, 3.92), [0, 1, 2, 3], 7.5)
    ax.set_xlim(0, 4.1)
    ax.tick_params(axis='y', labelsize=16)
    ax.tick_params(axis='x', labelsize=18, pad=8, labelbottom=(i == 3))
    ax.text(0.09, 3.1, cen_b_tags[i], fontsize=19, va='center', **SERIF_BI)
    ax.text(1.65, 3.08, cen_b_labels[i], fontsize=19, va='center')
    if i == 3:
        ax.plot([0.57, 0.77], [0.3, 0.3], color='red', lw=2.8)
        ax.text(0.83, 0.3, 'Rapp', fontsize=16, weight='bold', va='center')
        ax.plot([2.26, 2.54], [0.3, 0.3], color='blue', lw=2.8, dashes=(4, 1.6))
        ax.text(2.67, 0.3, 'PHSD', fontsize=16, weight='bold', va='center')

fig.text(575 / W, 1 - 43 / H, 'Ratio to Cocktail', rotation=90, ha='center', va='top', fontsize=22)
fig.text(1075 / W, 1 - 820 / H, r'M$_{\mathrm{ee}}$ (GeV/c$^{2}$)', ha='right', va='center', fontsize=21)

# =========================
# pT (a)
# =========================
ax = fig.add_axes(box(1179, 65, 1607, 762))
log_frame(ax, -9.09, 1.89, -0.157, 4.05)
for ck in [pk_1, pk_2, pk_3, pk_4, pk_5]:
    ax.plot(pk_mass, 10 ** np.array(ck), color='k', lw=1.2, zorder=2)
ax.bar(p1_sys_x, 10 ** np.array(p1_sys_hi) - 10 ** np.array(p1_sys_lo), bottom=10 ** np.array(p1_sys_lo),
       width=0.05, color='#9c9c9c', lw=0, zorder=2.5)
spectrum(ax, p1_x, p1_l, p1_dx, p1_dl, True, dlo=p1_dlo)
spectrum(ax, p2_x, p2_l, p2_dx, p2_dl, False)
spectrum(ax, p3_x, p3_l, p3_dx, p3_dl, True)
spectrum(ax, p4_x, p4_l, p4_dx, p4_dl, False)
spectrum(ax, p5_x, p5_l, p5_dx, p5_dl, True)

ax.text(0.47, 10 ** 1.27, 'Au + Au', fontsize=21, weight='bold', va='center')
ax.text(1.88, 10 ** 1.27, r'$\sqrt{\mathbf{s}_{\mathbf{NN}}}$ = 200 GeV', fontsize=21, weight='bold', va='center')
ax.text(0.39, 10 ** 0.47, 'MinBias', fontsize=18, va='center', **SERIF_BI)
ax.text(1.96, 10 ** 0.68, r'p$_{\mathrm{T}}$ Window (GeV/c)', fontsize=13, va='center')
for i, fl in enumerate(pt_leg_filled):
    yy = 10 ** (0.17 - 0.435 * i)
    ax.plot(1.75, yy, 'o', ms=7, mfc='k' if fl else 'white', mec='k', mew=1.0)
    if i < 4:
        ax.text(1.95, yy, pt_leg_ranges[i], fontsize=14, va='center')
        ax.text(2.72, yy, pt_leg_mult[i], fontsize=14, va='center')
    else:
        ax.text(1.95, yy, r'p$_{\mathrm{T}}$-Integrated  $\times$0.0001', fontsize=14, va='center')
ax.annotate('', xy=(1.54, 10 ** -1.64), xytext=(1.54, 10 ** 0.23),
            arrowprops=dict(arrowstyle='-|>', color='k', lw=1.5, mutation_scale=22))
ax.text(-0.04, 10 ** -7.21, '(a)', fontsize=22, va='center', **SERIF_BI)
ax.text(0.04, 10 ** -8.36, 'STAR Preliminary', fontsize=19, weight='bold', va='center')
ax.text(0.58, 10 ** -8.55, 'cocktail', fontsize=17, va='center', **SERIF_BI)

fig.text(1112 / W, 1 - 75 / H, r'dN / dM$_{\mathrm{ee}}$ (c$^{2}$/GeV)', rotation=90, ha='center', va='top',
         fontsize=20)
fig.text(1606 / W, 1 - 820 / H, r'M$_{\mathrm{ee}}$ (GeV/c$^{2}$)', ha='right', va='center', fontsize=21)

# =========================
# pT (b)
# =========================
pt_b = [(q1_x, q1_y, q1_dx, q1_dy, q1_sys, (q1_rapp_x, q1_rapp_y), (q1_phsd_x, q1_phsd_y)),
        (q2_x, q2_y, q2_dx, q2_dy, q2_sys, (q2_rapp_x, q2_rapp_y), (q2_phsd_x, q2_phsd_y)),
        (q3_x, q3_y, q3_dx, q3_dy, q3_sys, (q3_rapp_x, q3_rapp_y), (q3_phsd_x, q3_phsd_y)),
        (q4_x, q4_y, q4_dx, q4_dy, q4_sys, (q4_rapp_x, q4_rapp_y), (q4_phsd_x, q4_phsd_y)),
        (q5_x, q5_y, q5_dx, q5_dy, q5_sys, (q5_rapp_x, q5_rapp_y), (q5_phsd_x, q5_phsd_y))]
ph = (763 - 65) / 5
for i, (x, y, dx, dy, sys, rapp, phsd) in enumerate(pt_b):
    top = 65 + ph * i
    ax = fig.add_axes(box(1683, top, 2105, top + ph))
    ratio_panel(ax, (pb_x, pb_lo, pb_hi), x, y, dx, dy, pt_b_filled[i], sys, rapp, phsd,
                (0.06, 4.99), [1, 2, 3, 4], 7)
    ax.set_xlim(0, 4.04)
    ax.tick_params(axis='y', labelsize=14, pad=4)
    ax.tick_params(axis='x', labelsize=18, pad=8, labelbottom=(i == 4))
    ax.text(0.08, 3.8, pt_b_tags[i], fontsize=18, va='center', **SERIF_BI)
    ax.text(1.55, 4.0 if i == 4 else 3.78, pt_b_labels[i], fontsize=17, va='center')
    if i == 4:
        ax.plot([0.82, 1.07], [3.0, 3.0], color='red', lw=2.8)
        ax.text(1.14, 3.0, 'Rapp', fontsize=15, weight='bold', va='center')
        ax.plot([2.24, 2.52], [3.0, 3.0], color='blue', lw=2.8, dashes=(4, 1.6))
        ax.text(2.64, 3.0, 'PHSD', fontsize=15, weight='bold', va='center')

fig.text(1640 / W, 1 - 70 / H, 'Ratio to Cocktail', rotation=90, ha='center', va='top', fontsize=22)
fig.text(2095 / W, 1 - 820 / H, r'M$_{\mathrm{ee}}$ (GeV/c$^{2}$)', ha='right', va='center', fontsize=21)

fig.savefig('out.png', dpi=100)
